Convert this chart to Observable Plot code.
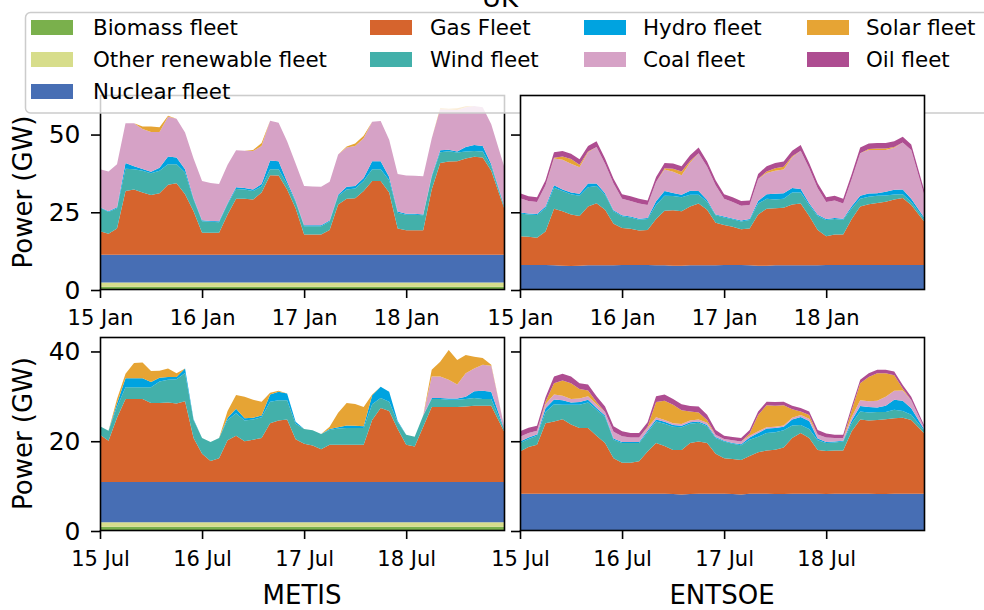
<!DOCTYPE html>
<html><head><meta charset="utf-8">
<script src="https://cdn.jsdelivr.net/npm/d3@7"></script>
<script src="https://cdn.jsdelivr.net/npm/@observablehq/plot@0.6"></script>
<style>
html,body{margin:0;padding:0;background:#fff;}
#chart{position:relative;width:984px;height:610px;overflow:hidden;font-family:"DejaVu Sans",sans-serif;background:#fff;}
#chart > svg{position:absolute;}
</style></head><body><div id="chart"></div>
<script>
// ---------- categories ----------
const seriesNames = ["Biomass fleet","Other renewable fleet","Nuclear fleet","Gas Fleet","Wind fleet","Hydro fleet","Coal fleet","Solar fleet","Oil fleet"];
const seriesColors = ["#7ab04c","#d7dd8b","#476eb4","#d6642d","#43b0aa","#00a3e0","#d6a2c6","#e6a434","#ae4d91"];
const hours = [0,2,4,6,8,10,12,14,16,18,20,22,24,26,28,30,32,34,36,38,40,42,44,46,48,50,52,54,56,58,60,62,64,66,68,70,72,74,76,78,80,82,84,86,88,90,92,95];
const columnLabels = ["METIS","ENTSOE"];
const yLabel = "Power (GW)";
const title = "UK";
const janTicks = [0,24,48,72];
const topTicks = [0,25,50];
const bottomTicks = [0,20,40];

// ---------- METIS, January (GW) ----------
const metisJanBiomass = [0.7,0.7,0.7,0.7,0.7,0.7,0.7,0.7,0.7,0.7,0.7,0.7,0.7,0.7,0.7,0.7,0.7,0.7,0.7,0.7,0.7,0.7,0.7,0.7,0.7,0.7,0.7,0.7,0.7,0.7,0.7,0.7,0.7,0.7,0.7,0.7,0.7,0.7,0.7,0.7,0.7,0.7,0.7,0.7,0.7,0.7,0.7,0.7];
const metisJanOther = [1.4,1.4,1.4,1.4,1.4,1.4,1.4,1.4,1.4,1.4,1.4,1.4,1.4,1.4,1.4,1.4,1.4,1.4,1.4,1.4,1.4,1.4,1.4,1.4,1.4,1.4,1.4,1.4,1.4,1.4,1.4,1.4,1.4,1.4,1.4,1.4,1.4,1.4,1.4,1.4,1.4,1.4,1.4,1.4,1.4,1.4,1.4,1.4];
const metisJanNuclear = [8.9,8.9,8.9,8.9,8.9,8.9,8.9,8.9,8.9,8.9,8.9,8.9,8.9,8.9,8.9,8.9,8.9,8.9,8.9,8.9,8.9,8.9,8.9,8.9,8.9,8.9,8.9,8.9,8.9,8.9,8.9,8.9,8.9,8.9,8.9,8.9,8.9,8.9,8.9,8.9,8.9,8.9,8.9,8.9,8.9,8.9,8.9,8.9];
const metisJanGas = [7.6,6.8,8.5,20.5,21,20,19.2,19.8,22.5,23,19.5,14, 7.1,7.1,7.1,13,18,18,17.8,20,25.6,25.5,21,15, 6.5,6.5,6.5,8,16.2,18,18.2,20.5,23.7,23.7,20,8.5, 7.9,7.9,7.9,21,29.5,30,30.1,31,31.5,31.3,27,15.1];
const metisJanWind = [7.5,7,6.5,7.2,6.5,7,7,7.2,6.6,6.1,7,3.8, 3.7,3.5,3.4,3.3,3.2,3,2.7,2,1.9,2,1.7,2, 2.7,2.7,2.7,2.7,2.7,3,3.1,3.2,3.8,3.8,4,5, 5,5,4.8,4,3.5,3.3,2.8,2.2,1.9,1.9,1.5,0.6];
const metisJanHydro = [0.2,0.2,0.3,1.8,1,0.6,0.5,1,2.5,2.2,1,0.4, 0.3,0.3,0.3,0.3,0.5,0.5,0.5,0.8,2.8,2.6,0.8,0.4, 0.3,0.3,0.3,0.3,0.4,0.9,0.8,1,2.6,2.6,1,0.4, 0.3,0.3,0.3,0.4,0.6,0.5,0.3,1.5,1.9,1.8,0.6,0.3];
const metisJanCoal = [12.2,12.8,13.8,12.8,13.8,12.9,12.8,11.5,12.8,12.5,11.8,12.8, 12.6,12.2,12,12.4,11.9,12,12.4,12.2,12.8,12.4,13,12, 12.6,12.5,12.4,12.5,13,12.6,12.9,12.8,12.7,12.9,12,12.1, 12.3,12.2,12.3,12,13.2,12.9,13.4,12.8,12.6,12.5,12.9,12.6];
const metisJanSolar = [0,0,0,0,0,0.8,1.8,1.5,0.3,0,0,0, 0,0,0,0,0,0,0.3,1,0,0,0,0, 0,0,0,0,0,0.3,0.8,0.8,0,0,0,0, 0,0,0,0,0.3,0.3,0.5,0.3,0,0,0,0];

// ---------- ENTSOE, January (GW) ----------
const entsoeJanNuclear = [7.7,7.7,7.7,7.7,7.6,7.5,7.4,7.5,7.6,7.6,7.6,7.6, 7.7,7.7,7.7,7.7,7.6,7.6,7.5,7.5,7.6,7.6,7.6,7.6, 7.7,7.7,7.7,7.6,7.5,7.5,7.6,7.6,7.6,7.6,7.6,7.6, 7.7,7.7,7.7,7.7,7.7,7.7,7.7,7.7,7.7,7.7,7.7,7.7];
const entsoeJanGas = [9.3,9.1,8.8,10.8,18.2,17.5,16.6,16,18.9,20,17.9,13.4, 11.9,11.7,11.1,11.3,14.9,17.6,17.8,17.5,18.9,19.9,17.9,13.7, 12.9,12.3,11.5,11.9,16.5,18.3,18.4,18.5,19.6,19.9,15.9,11.4, 9.3,9.8,9.8,14.8,18.8,19.6,20,20.4,21.1,21.6,19.3,14.1];
const entsoeJanWind = [7.3,7.2,7.3,7.5,6.8,6.5,6.5,6.5,6.2,5.5,4.8,4, 3.8,3.6,3.5,3.5,4.5,4.8,4.6,4.5,3.8,2.8,2.6,2.4, 2.4,2.4,2.5,2.7,3.5,3.2,2.8,2.9,3.8,3.5,3.5,4.5, 5.2,5,4.8,3.5,2.5,2.4,2.3,2,1.6,1.2,1,0.8];
const entsoeJanHydro = [0.3,0.3,0.3,0.5,0.8,0.5,0.5,0.6,1.2,0.8,0.5,0.3, 0.3,0.3,0.3,0.3,1.2,1.5,1,0.8,1.3,1.2,0.5,0.3, 0.3,0.3,0.3,0.3,0.8,1.5,1.8,1.8,1.5,1.2,0.6,0.4, 0.3,0.3,0.3,0.6,1,1,0.8,1.2,1.5,1.5,1,0.5];
const entsoeJanCoal = [4.6,4,3.9,6.9,8.6,9.6,9.3,8.6,10.1,11.8,9.5,8.6, 5.3,5,4.9,4.2,6.2,6.9,6.8,6.3,9.1,12.2,10.7,9.4, 5.7,5.3,4.8,4.5,7.1,6.8,7.4,7.6,9.9,12.3,11.2,8.5, 5.5,5.7,4.9,8.8,13.7,14,13.9,13.4,13.5,15.1,15.7,7.4];
const entsoeJanSolar = [0,0,0,0,0.2,1,1.5,0.8,0.2,0,0,0, 0,0,0,0,0,0.4,1,1.2,0.5,0,0,0, 0,0,0,0,0,0.5,0.8,0.9,0.3,0,0,0, 0,0,0,0,0,0.3,0.5,0.5,0.3,0,0,0];
const entsoeJanOil = [1.6,1.5,1.5,1.6,1.8,1.8,1.7,1.7,1.8,1.8,1.7,1.6, 1.5,1.5,1.5,1.5,1.6,1.7,1.7,1.7,1.8,1.8,1.7,1.6, 1.5,1.5,1.5,1.5,1.6,1.7,1.7,1.7,1.8,1.8,1.7,1.6, 1.5,1.5,1.5,1.6,1.8,1.8,1.8,1.8,1.8,1.9,1.8,1.5];

// ---------- METIS, July (GW) ----------
const metisJulBiomass = [0.7,0.7,0.7,0.7,0.7,0.7,0.7,0.7,0.7,0.7,0.7,0.7,0.7,0.7,0.7,0.7,0.7,0.7,0.7,0.7,0.7,0.7,0.7,0.7,0.7,0.7,0.7,0.7,0.7,0.7,0.7,0.7,0.7,0.7,0.7,0.7,0.7,0.7,0.7,0.7,0.7,0.7,0.7,0.7,0.7,0.7,0.7,0.7];
const metisJulOther = [1,1,1,1,1,1,1,1,1,1,1,1,1,1,1,1,1,1,1,1,1,1,1,1,1,1,1,1,1,1,1,1,1,1,1,1,1,1,1,1,1,1,1,1,1,1,1,1];
const metisJulNuclear = [9,9,9,9,9,9,9,9,9,9,9,9,9,9,9,9,9,9,9,9,9,9,9,9,9,9,9,9,9,9,9,9,9,9,9,9,9,9,9,9,9,9,9,9,9,9,9,9];
const metisJulGas = [10.5,9.2,14.3,18.5,18.5,18.5,17.6,17.6,17.7,17.5,18,9.8, 6.3,4.7,5.3,9.3,10.3,9.1,9.4,9.8,13.1,13.7,13.9,9.5, 8.5,8.1,7.3,8.3,8.3,8.3,8.3,8.3,13.8,16.5,15.8,11.8, 8.3,7.9,12.3,16.7,16.7,16.7,16.7,16.8,17,17,17,11.3];
const metisJulWind = [1.9,2.2,2.4,2.6,2.6,2.6,3.5,4.8,5.1,5.4,6.3,4, 3.5,4.2,4.5,4.5,5,4.6,4.5,4.6,4.8,4.5,4.3,3.5, 3.3,3.4,3.4,3.3,3.6,3.7,3.7,3.7,3.5,2.2,2.1,1.5, 2.2,2.2,2.5,1.8,1.8,1.6,1.6,1.7,1.7,1.5,1.5,0.5];
const metisJulHydro = [0,0,0.8,2,2,2,1.2,0.8,0.6,0.5,1,0.2, 0,0,0,0.5,1,0.5,0.4,0.4,1.6,1.9,1.5,0.4, 0,0,0,0.2,0.3,0.6,0.5,0.4,2,2.5,2.2,0.3, 0,0,0,0.2,0.2,0.3,0.3,0.5,1.5,1.8,1.6,0.1];
const metisJulCoal = [0,0,0,0,0,0,0,0,0,0,0,0, 0,0,0,0,0,0,0,0,0,0,0,0, 0,0,0,0,0,0,0,0,0,0,0,0, 0,0,0,4.8,4.8,4.2,3.1,5.2,5.1,5.8,5.8,0.6];
const metisJulSolar = [0,0,1,1,3.4,3.5,2.4,1.6,1.9,0.8,0,0, 0,0,0,1.5,3.1,4.8,4,3.1,0.4,0.2,0,0, 0,0,0,0.5,3.2,5,4.9,4.3,0.2,0,0,0, 0,0,0,1.5,3.3,6.6,5.5,4.1,2.6,1.5,0.2,0];

// ---------- ENTSOE, July (GW) ----------
const entsoeJulNuclear = [8.1,8.1,8.1,8.1,8.1,8.1,8.1,8.1,8.1,8.1,8.1,8.1, 8.1,8.1,8.1,8.1,8.1,8.1,8.0,7.9,8.0,8.1,8.1,8.1, 8.1,8.0,7.9,8.1,8.1,8.1,8.0,8.0,8.1,8.1,8.1,8.1, 8.0,8.1,8.1,8.1,8.1,8.1,8.0,8.0,8.1,8.1,8.1,8.1];
const entsoeJulGas = [9.4,10.4,10.9,15.7,16.1,16.6,15.4,14.6,14.6,12.9,11.3,7.9, 6.9,6.9,7.2,9.4,11.3,10.6,9.8,9.9,11.4,11.6,11.3,8.9, 7.9,7.8,7.7,8.4,9.2,9.6,9.9,10.4,12.4,13.5,12.4,9.7, 9.6,9.6,9.6,13.9,16.5,16.3,16.5,16.7,16.8,16.9,16.4,13.5];
const entsoeJulWind = [1.9,1.8,2,2.5,3.8,3.2,4.4,5.2,5.7,5.8,5.8,4.1, 4.4,4.4,4.1,4.3,4.8,5,5.2,5.1,4.3,4.2,3.7,3.5, 3.7,3.4,3.3,3.6,3.5,3.9,3.9,3.8,2.8,1.8,2,2.2, 1.8,1.8,2,1.8,1.8,1.8,1.8,1.6,1.9,1.5,1.2,0.6];
const entsoeJulHydro = [0.3,0.3,0.3,0.8,1.1,1,0.5,0.6,0.6,0.4,0.3,0.3, 0.2,0.2,0.2,0.3,0.4,0.4,0.4,0.3,0.3,0.3,0.3,0.2, 0.2,0.2,0.2,0.5,0.8,1,0.9,0.8,1.3,1.8,1.8,0.4, 0.2,0.2,0.2,0.6,1.2,1.2,1,1.4,2.2,2.3,1.4,0.3];
const entsoeJulCoal = [1.1,1,0.8,1,1.1,1,0.8,0.8,0.8,0.8,0.8,1.5, 1.3,1,1,0.7,0.5,0.4,0.4,0.4,0.4,0.4,0.5,0.5, 0.4,0.6,0.6,0.4,0.4,0.3,0.3,0.3,0.4,0.4,0.5,0.9, 1,0.8,0.6,0.8,1.3,1.3,1.5,2,2,2.3,1.8,0.4];
const entsoeJulSolar = [0,0,0,0.5,2.5,3.4,3.5,2.1,1.3,0.5,0,0, 0,0,0,0.2,3.4,4.3,4.1,3.1,2,1.6,0.6,0, 0,0,0,0.5,3.6,4.9,4.7,4.5,1.9,0.8,0.8,0, 0,0,0,1.5,3.8,5.4,6.1,5.2,3.5,0.4,0,0];
const entsoeJulOil = [1.2,1.2,1.1,1,1.5,1.5,1.5,1.3,1.3,1.3,1.2,1.2, 1.1,1,1,1,1.3,1.4,1.3,1.3,1.2,1.3,1.2,1.1, 0.7,0.7,0.8,0.8,0.8,0.8,0.8,0.8,0.8,0.8,0.8,1, 0.9,0.7,0.7,0.8,0.8,0.8,0.8,0.8,0.8,0.8,0.8,0.5];

// ---------- assemble panels ----------
const JAN = Date.UTC(2017, 0, 15), JUL = Date.UTC(2017, 6, 15), HOUR = 3600e3;
const panels = [
  {start: JAN, col: 0, row: 0, series: {"Biomass fleet": metisJanBiomass, "Other renewable fleet": metisJanOther, "Nuclear fleet": metisJanNuclear, "Gas Fleet": metisJanGas, "Wind fleet": metisJanWind, "Hydro fleet": metisJanHydro, "Coal fleet": metisJanCoal, "Solar fleet": metisJanSolar}},
  {start: JUL, col: 0, row: 1, series: {"Biomass fleet": metisJulBiomass, "Other renewable fleet": metisJulOther, "Nuclear fleet": metisJulNuclear, "Gas Fleet": metisJulGas, "Wind fleet": metisJulWind, "Hydro fleet": metisJulHydro, "Coal fleet": metisJulCoal, "Solar fleet": metisJulSolar}},
  {start: JUL, col: 1, row: 1, series: {"Nuclear fleet": entsoeJulNuclear, "Gas Fleet": entsoeJulGas, "Wind fleet": entsoeJulWind, "Hydro fleet": entsoeJulHydro, "Coal fleet": entsoeJulCoal, "Solar fleet": entsoeJulSolar, "Oil fleet": entsoeJulOil}},
  {start: JAN, col: 1, row: 0, series: {"Nuclear fleet": entsoeJanNuclear, "Gas Fleet": entsoeJanGas, "Wind fleet": entsoeJanWind, "Hydro fleet": entsoeJanHydro, "Coal fleet": entsoeJanCoal, "Solar fleet": entsoeJanSolar, "Oil fleet": entsoeJanOil}}
];

// ---------- layout ----------
const FONT = "DejaVu Sans";
const cols = [{x0: 100, x1: 504}, {x0: 520, x1: 924}];
const rows = [{y0: 95, y1: 289, domain: [0, 62.4], ticks: topTicks}, {y0: 337, y1: 530, domain: [0, 43], ticks: bottomTicks}];
const M = {left: 100, right: 12, top: 12, bottom: 50};
const root = document.getElementById("chart");

function makePanel(p) {
  const col = cols[p.col], row = rows[p.row];
  const data = [];
  seriesNames.forEach(name => {
    const vals = p.series[name];
    if (!vals) return;
    hours.forEach((h, j) => data.push({time: new Date(p.start + h * HOUR), series: name, value: vals[j]}));
  });
  const ticks = janTicks.map(h => new Date(p.start + h * HOUR));
  const showY = p.col === 0;
  const chart = Plot.plot({
    width: M.left + (col.x1 - col.x0) + M.right,
    height: M.top + (row.y1 - row.y0) + M.bottom,
    marginLeft: M.left, marginRight: M.right, marginTop: M.top, marginBottom: M.bottom,
    style: {background: "transparent", overflow: "visible", fontFamily: FONT, color: "black"},
    x: {type: "utc", domain: [new Date(p.start), new Date(p.start + 95 * HOUR)]},
    y: {domain: row.domain},
    color: {domain: seriesNames, range: seriesColors},
    marks: [
      p.col === 1 ? Plot.frame({fill: "white"}) : null,
      Plot.areaY(data, {x: "time", y: "value", fill: "series", order: seriesNames}),
      Plot.axisX({ticks, tickFormat: d3.utcFormat("%d %b"), tickSize: 9, tickPadding: 12, fontSize: 21, strokeWidth: 1.6, label: null}),
      Plot.axisY({ticks: row.ticks, tickSize: 9, tickPadding: 11, fontSize: 25, strokeWidth: 1.6, label: null, dy: 1,
                  tickFormat: showY ? (d => String(d)) : (() => "")}),
      Plot.frame({stroke: "black", strokeWidth: 1.6})
    ]
  });
  chart.style.left = (col.x0 - M.left) + "px";
  chart.style.top = (row.y0 - M.top) + "px";
  return chart;
}

const built = panels.map(makePanel);
// z-order: left panels and lower row, then labels, then legend, then top-right panel (drawn over legend)
root.appendChild(built[0]);
root.appendChild(built[1]);
root.appendChild(built[2]);

// labels
const lab = d3.create("svg").attr("width", 984).attr("height", 610).style("left", "0px").style("top", "0px")
  .attr("font-family", FONT);
lab.append("text").attr("x", 500).attr("y", 7).attr("text-anchor", "middle").attr("font-size", 26).text(title);
rows.forEach(r => {
  lab.append("text").attr("transform", `translate(32,${(r.y0 + r.y1) / 2}) rotate(-90)`)
    .attr("text-anchor", "middle").attr("font-size", 26).text(yLabel);
});
cols.forEach((c, i) => {
  lab.append("text").attr("x", (c.x0 + c.x1) / 2).attr("y", 604).attr("text-anchor", "middle")
    .attr("font-size", 26).text(columnLabels[i]);
});
root.appendChild(lab.node());

// legend: 4 columns filled column-major; the first column takes the extra entry (as matplotlib does)
const leg = d3.create("svg").attr("width", 984).attr("height", 130).style("left", "0px").style("top", "0px")
  .attr("font-family", FONT);
leg.append("rect").attr("x", 25.5).attr("y", 12.5).attr("width", 975).attr("height", 100.5).attr("rx", 5)
  .attr("fill", "white").attr("fill-opacity", 0.8).attr("stroke", "#cccccc").attr("stroke-width", 1.5);
const legPatchX = [31, 370, 584, 807], legTextX = [93, 430, 643, 866], legRowY = [20, 52, 84];
const legColumnSizes = [3, 2, 2, 2];
let legIndex = 0;
legColumnSizes.forEach((n, c) => {
  for (let r = 0; r < n; r++, legIndex++) {
    leg.append("rect").attr("x", legPatchX[c]).attr("y", legRowY[r]).attr("width", 42).attr("height", 15)
      .attr("fill", seriesColors[legIndex]);
    leg.append("text").attr("x", legTextX[c]).attr("y", legRowY[r] + 15).attr("font-size", 21.4).text(seriesNames[legIndex]);
  }
});
root.appendChild(leg.node());

root.appendChild(built[3]);
</script></body></html>
